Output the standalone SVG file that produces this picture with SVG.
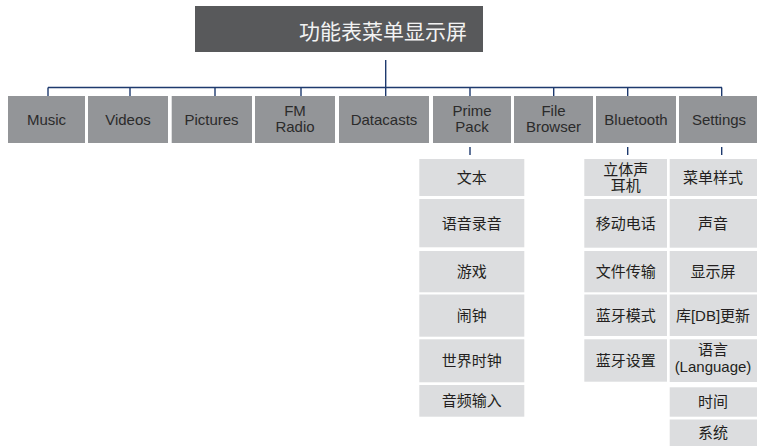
<svg xmlns="http://www.w3.org/2000/svg" width="757" height="446" viewBox="0 0 757 446">
<style>
.top rect{fill:#939598}
.top text{font-family:"Liberation Sans",Arial,sans-serif;font-size:15px;fill:#2b2b2b;text-anchor:middle}
.sub rect{fill:#dcdddf}
.sub text{font-family:"Liberation Sans","Noto Sans CJK SC",sans-serif;font-size:15px;fill:#231f20;text-anchor:middle}
.ln{stroke:#1e3a6e;stroke-width:1.4;fill:none}
</style>
<rect width="757" height="446" fill="#ffffff"/>
<g id="title">
<rect x="195" y="6" width="288" height="46" fill="#58595b"/>
<text x="383" y="39" font-family="'Noto Sans CJK SC',sans-serif" font-size="21" fill="#f2f2f2" text-anchor="middle">功能表菜单显示屏</text>
</g>
<g id="connectors" class="ln">
<line x1="385.7" y1="60" x2="385.7" y2="96"/>
<line x1="48" y1="87.5" x2="722" y2="87.5"/>
<line x1="48" y1="87.5" x2="48" y2="96"/>
<line x1="130" y1="87.5" x2="130" y2="96"/>
<line x1="215" y1="87.5" x2="215" y2="96"/>
<line x1="301" y1="87.5" x2="301" y2="96"/>
<line x1="470" y1="87.5" x2="470" y2="96"/>
<line x1="553.7" y1="87.5" x2="553.7" y2="96"/>
<line x1="627.7" y1="87.5" x2="627.7" y2="96"/>
<line x1="721.7" y1="87.5" x2="721.7" y2="96"/>
<line x1="470" y1="147" x2="470" y2="155"/>
<line x1="627.7" y1="147" x2="627.7" y2="155"/>
<line x1="721.7" y1="147" x2="721.7" y2="155"/>
</g>
<g id="music" class="top"><rect x="8" y="96" width="77" height="47"/><text x="46.5" y="125">Music</text></g>
<g id="videos" class="top"><rect x="88" y="96" width="80" height="47"/><text x="128" y="125">Videos</text></g>
<g id="pictures" class="top"><rect x="171.7" y="96" width="80.3" height="47"/><text x="211.5" y="125">Pictures</text></g>
<g id="fmradio" class="top"><rect x="255" y="96" width="80" height="47"/><text x="295" y="116">FM</text><text x="295" y="132">Radio</text></g>
<g id="datacasts" class="top"><rect x="339" y="96" width="90" height="47"/><text x="384" y="125">Datacasts</text></g>
<g id="primepack" class="top"><rect x="433" y="96" width="78" height="47"/><text x="472" y="116">Prime</text><text x="472" y="132">Pack</text></g>
<g id="filebrowser" class="top"><rect x="514" y="96" width="79" height="47"/><text x="553.5" y="116">File</text><text x="553.5" y="132">Browser</text></g>
<g id="bluetooth" class="top"><rect x="596" y="96" width="80" height="47"/><text x="636" y="125">Bluetooth</text></g>
<g id="settings" class="top"><rect x="679" y="96" width="78" height="47"/><text x="719" y="125">Settings</text></g>

<g id="pp-1" class="sub"><rect x="419.3" y="159" width="105" height="37"/><text x="471.8" y="183">文本</text></g>
<g id="pp-2" class="sub"><rect x="419.3" y="199" width="105" height="48.3"/><text x="471.8" y="228.5">语音录音</text></g>
<g id="pp-3" class="sub"><rect x="419.3" y="251" width="105" height="41.3"/><text x="471.8" y="277">游戏</text></g>
<g id="pp-4" class="sub"><rect x="419.3" y="294.5" width="105" height="42.2"/><text x="471.8" y="321">闹钟</text></g>
<g id="pp-5" class="sub"><rect x="419.3" y="339.3" width="105" height="43"/><text x="471.8" y="366">世界时钟</text></g>
<g id="pp-6" class="sub"><rect x="419.3" y="385" width="105" height="31.7"/><text x="471.8" y="406">音频输入</text></g>

<g id="bt-1" class="sub"><rect x="584.3" y="159" width="82.7" height="37"/><text x="625.7" y="175">立体声</text><text x="625.7" y="191">耳机</text></g>
<g id="bt-2" class="sub"><rect x="584.3" y="199" width="82.7" height="48.7"/><text x="625.7" y="228.5">移动电话</text></g>
<g id="bt-3" class="sub"><rect x="584.3" y="251" width="82.7" height="41.3"/><text x="625.7" y="277">文件传输</text></g>
<g id="bt-4" class="sub"><rect x="584.3" y="294.5" width="82.7" height="41.5"/><text x="625.7" y="321">蓝牙模式</text></g>
<g id="bt-5" class="sub"><rect x="584.3" y="339.3" width="82.7" height="42.4"/><text x="625.7" y="366">蓝牙设置</text></g>

<g id="st-1" class="sub"><rect x="669.7" y="159" width="87.3" height="37"/><text x="713" y="183">菜单样式</text></g>
<g id="st-2" class="sub"><rect x="669.7" y="199" width="87.3" height="48.7"/><text x="713" y="228.5">声音</text></g>
<g id="st-3" class="sub"><rect x="669.7" y="251" width="87.3" height="41.3"/><text x="713" y="277">显示屏</text></g>
<g id="st-4" class="sub"><rect x="669.7" y="294.5" width="87.3" height="41.5"/><text x="713" y="321">库[DB]更新</text></g>
<g id="st-5" class="sub"><rect x="669.7" y="339.3" width="87.3" height="42.7"/><text x="713" y="355">语言</text><text x="713" y="372">(Language)</text></g>
<g id="st-6" class="sub"><rect x="669.7" y="387.3" width="87.3" height="29.4"/><text x="713" y="407">时间</text></g>
<g id="st-7" class="sub"><rect x="669.7" y="419.5" width="87.3" height="26.5"/><text x="713" y="438">系统</text></g>
</svg>
